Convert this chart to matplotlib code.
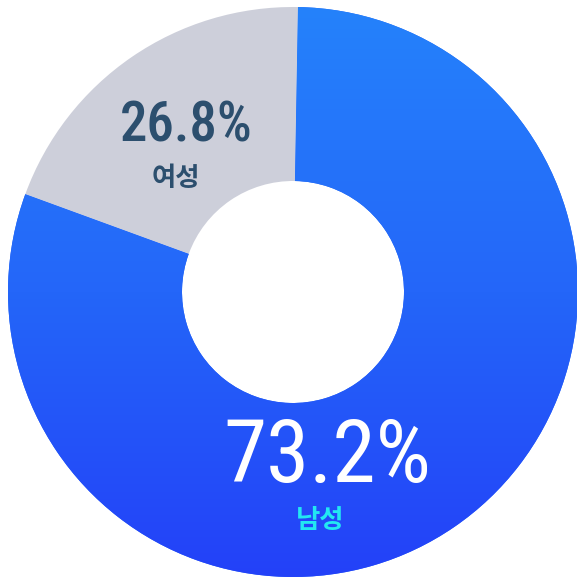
import numpy as np
import matplotlib
matplotlib.use('Agg')
import matplotlib.pyplot as plt
from matplotlib.colors import LinearSegmentedColormap

# datos del gráfico
labels = ['남성', '여성']
label_pct = ['73.2%', '26.8%']
# tamaño de cada sector (el arco no coincide con la etiqueta)
sizes = [80.3, 19.7]

W = 577
fig = plt.figure(figsize=(W / 100, W / 100), dpi=100)
ax = fig.add_axes([0, 0, 1, 1])

cx, cy = 293, W - 292
R, r_in = 285, 111

wedges, _ = ax.pie(sizes, center=(cx, cy), radius=R, startangle=89,
                   counterclock=False, colors=['#2466f8', '#cdcfda'],
                   wedgeprops=dict(width=R - r_in, linewidth=0),
                   frame=True)
ax.set_xlim(0, W)
ax.set_ylim(0, W)
ax.set_aspect('equal')
ax.axis('off')

# degradado vertical para el sector azul
cmap = LinearSegmentedColormap.from_list('azul', ['#2341f8', '#2466f9', '#2582fb'])
grad = np.linspace(0, 1, 256).reshape(-1, 1)
im = ax.imshow(grad, cmap=cmap, origin='lower', aspect='auto',
               extent=[cx - R, cx + R, cy - R, cy + R], zorder=2)
im.set_clip_path(wedges[0])

kor = ['Noto Sans CJK KR', 'NanumGothic', 'DejaVu Sans']
dark = '#2c4f6e'
ax.text(186, W - 142, label_pct[1], ha='center', va='baseline', fontsize=39.5,
        color=dark, family='Roboto Condensed', weight='medium', zorder=5)
ax.text(176, W - 186, labels[1], ha='center', va='baseline', fontsize=19,
        color=dark, family=kor, weight='bold', zorder=5)

ax.text(327, W - 482, label_pct[0], ha='center', va='baseline', fontsize=63,
        color='white', family='Roboto Condensed', weight='normal', zorder=5)
ax.text(320, W - 528, labels[0], ha='center', va='baseline', fontsize=19,
        color='#22e8f2', family=kor, weight='bold', zorder=5)

fig.savefig('out.png', dpi=100)
